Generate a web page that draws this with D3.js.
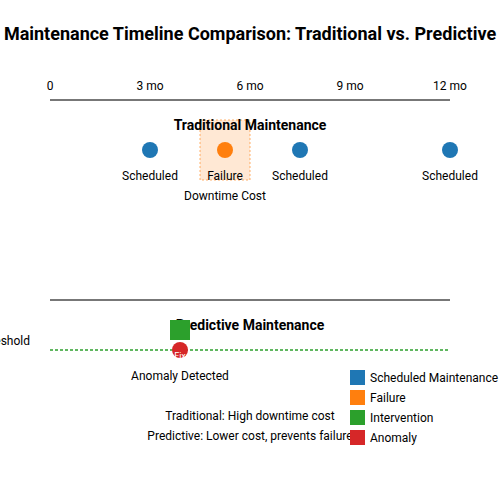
<!DOCTYPE html>
<html><head><meta charset="utf-8">
<script src="https://cdn.jsdelivr.net/npm/d3@7"></script>
<style>body{margin:0;background:#fff}text{font-family:Roboto,"Liberation Sans",sans-serif}</style>
</head><body>
<div id="chart"></div>
<script>
// data
const tickMonths = [0, 3, 6, 9, 12];
const tickLabels = ["0", "3 mo", "6 mo", "9 mo", "12 mo"];
const tradEvents = [
  {m: 3, type: "Scheduled"},
  {m: 5.25, type: "Failure"},
  {m: 7.5, type: "Scheduled"},
  {m: 12, type: "Scheduled"}
];
const downtimeBox = [4.5, 6];
const anomalyMonth = 3.9;
const interventionMonth = 3.9;
const legendLabels = ["Scheduled Maintenance", "Failure", "Intervention", "Anomaly"];
const legendColors = ["#1f77b4", "#ff7f0e", "#2ca02c", "#d62728"];
const notes = ["Traditional: High downtime cost", "Predictive: Lower cost, prevents failure"];

const svg = d3.select("#chart").append("svg").attr("width", 500).attr("height", 500);
const x = d3.scaleLinear().domain([0, 12]).range([50, 450]);

svg.append("text").attr("x", 250).attr("y", 40).attr("text-anchor", "middle")
  .attr("font-weight", "bold").attr("font-size", 18)
  .text("Maintenance Timeline Comparison: Traditional vs. Predictive");

// top axis
svg.append("line").attr("x1", x(0)).attr("x2", x(12)).attr("y1", 100).attr("y2", 100)
  .attr("stroke", "#777").attr("stroke-width", 2);
svg.selectAll(".tick").data(tickMonths).enter().append("text")
  .attr("x", d => x(d)).attr("y", 90).attr("text-anchor", "middle").attr("font-size", 12)
  .text((d, i) => tickLabels[i]);

// downtime box
svg.append("rect").attr("x", x(downtimeBox[0])).attr("y", 120)
  .attr("width", x(downtimeBox[1]) - x(downtimeBox[0])).attr("height", 60)
  .attr("fill", "#ff7f0e").attr("fill-opacity", 0.18)
  .attr("stroke", "#ff7f0e").attr("stroke-opacity", 0.6).attr("stroke-dasharray", "2,2");

svg.append("text").attr("x", 250).attr("y", 130).attr("text-anchor", "middle")
  .attr("font-weight", "bold").attr("font-size", 14).text("Traditional Maintenance");

svg.selectAll(".ev").data(tradEvents).enter().append("circle")
  .attr("cx", d => x(d.m)).attr("cy", 150).attr("r", 8)
  .attr("fill", d => d.type === "Failure" ? "#ff7f0e" : "#1f77b4");
svg.selectAll(".evl").data(tradEvents).enter().append("text")
  .attr("x", d => x(d.m)).attr("y", 180).attr("text-anchor", "middle").attr("font-size", 12)
  .text(d => d.type);
svg.append("text").attr("x", x(5.25)).attr("y", 200).attr("text-anchor", "middle")
  .attr("font-size", 12).text("Downtime Cost");

// predictive
svg.append("line").attr("x1", x(0)).attr("x2", x(12)).attr("y1", 300).attr("y2", 300)
  .attr("stroke", "#777").attr("stroke-width", 2);
svg.append("text").attr("x", 250).attr("y", 330).attr("text-anchor", "middle")
  .attr("font-weight", "bold").attr("font-size", 14).text("Predictive Maintenance");
svg.append("line").attr("x1", x(0)).attr("x2", x(12)).attr("y1", 350).attr("y2", 350)
  .attr("stroke", "#2ca02c").attr("stroke-width", 1.5).attr("stroke-dasharray", "3,2");
svg.append("text").attr("x", 30).attr("y", 345).attr("text-anchor", "end")
  .attr("font-size", 12).text("Threshold");
svg.append("rect").attr("x", x(interventionMonth) - 10).attr("y", 320)
  .attr("width", 20).attr("height", 20).attr("fill", "#2ca02c");
svg.append("circle").attr("cx", x(anomalyMonth)).attr("cy", 350).attr("r", 8).attr("fill", "#d62728");
svg.append("text").attr("x", x(anomalyMonth)).attr("y", 359).attr("text-anchor", "middle")
  .attr("font-size", 9).attr("fill", "#fff").text("Fix");
svg.append("text").attr("x", x(anomalyMonth)).attr("y", 380).attr("text-anchor", "middle")
  .attr("font-size", 12).text("Anomaly Detected");

// notes
svg.selectAll(".note").data(notes).enter().append("text")
  .attr("x", 250).attr("y", (d, i) => 420 + i * 20).attr("text-anchor", "middle")
  .attr("font-size", 12).text(d => d);

// legend
const lg = svg.selectAll(".lg").data(legendLabels).enter().append("g")
  .attr("transform", (d, i) => `translate(350,${370 + i * 20})`);
lg.append("rect").attr("width", 15).attr("height", 15).attr("fill", (d, i) => legendColors[i]);
lg.append("text").attr("x", 20).attr("y", 12).attr("font-size", 12).text(d => d);
</script>
</body></html>
